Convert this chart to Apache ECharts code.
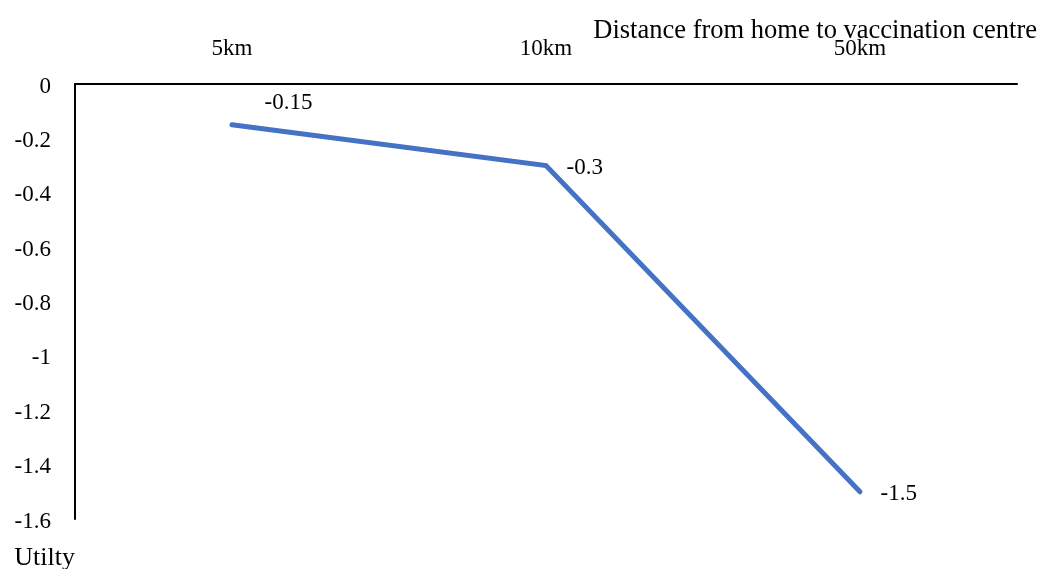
<!DOCTYPE html>
<html>
<head>
<meta charset="utf-8">
<script src="https://cdn.jsdelivr.net/npm/echarts@6/dist/echarts.min.js"></script>
<style>
  html, body { margin: 0; padding: 0; background: #fff; }
  #chart { width: 1038px; height: 569px; }
</style>
</head>
<body>
<div id="chart"></div>
<script>
// Utility of each distance level
const categories = ['5km', '10km', '50km'];
const utility = [-0.15, -0.3, -1.5];
const yTicks = { min: -1.6, max: 0, step: 0.2 };
const xTitle = 'Distance from home to vaccination centre';
const yTitle = 'Utilty';

const FONT = '"Liberation Serif", "Times New Roman", serif';

const chart = echarts.init(document.getElementById('chart'));

const points = utility.map((v, i) => {
  const item = { value: v };
  if (i === 0) {
    item.label = { offset: [12, -22] };
  }
  return item;
});

chart.setOption({
  animation: false,
  backgroundColor: '#fff',
  grid: { left: 75, right: 21, top: 84, bottom: 50, containLabel: false, outerBoundsMode: 'none' },
  xAxis: {
    type: 'category',
    position: 'top',
    data: categories,
    boundaryGap: true,
    axisLine: { lineStyle: { color: '#000', width: 2 } },
    axisTick: { show: false },
    axisLabel: { color: '#000', fontFamily: FONT, fontSize: 23, margin: 24 },
    name: xTitle,
    nameLocation: 'end',
    nameGap: 20,
    nameMoveOverlap: false,
    nameTextStyle: {
      color: '#000', fontFamily: FONT, fontSize: 26.5,
      align: 'right', verticalAlign: 'bottom', padding: [0, 0, 39, 0]
    },
    splitLine: { show: false }
  },
  yAxis: {
    type: 'value',
    min: yTicks.min,
    max: yTicks.max,
    interval: yTicks.step,
    axisLine: { show: true, lineStyle: { color: '#000', width: 2 } },
    axisTick: { show: false },
    splitLine: { show: false },
    axisLabel: {
      color: '#000', fontFamily: FONT, fontSize: 23, margin: 24,
      verticalAlign: 'top', lineHeight: 23, padding: [-9, 0, 0, 0],
      formatter: v => String(Math.round(v * 10) / 10)
    },
    name: yTitle,
    nameLocation: 'start',
    nameGap: 39,
    nameMoveOverlap: false,
    nameTextStyle: {
      color: '#000', fontFamily: FONT, fontSize: 26,
      align: 'right', verticalAlign: 'middle'
    }
  },
  series: [{
    type: 'line',
    data: points,
    symbol: 'circle',
    symbolSize: 1,
    showSymbol: true,
    itemStyle: { color: 'rgba(0,0,0,0)' },
    lineStyle: { color: '#4472C4', width: 5, cap: 'round', join: 'miter' },
    label: {
      show: true,
      position: 'right',
      distance: 20,
      color: '#000',
      fontFamily: FONT,
      fontSize: 23,
      offset: [0, 2],
      formatter: p => String(p.value)
    }
  }]
});
</script>
</body>
</html>
